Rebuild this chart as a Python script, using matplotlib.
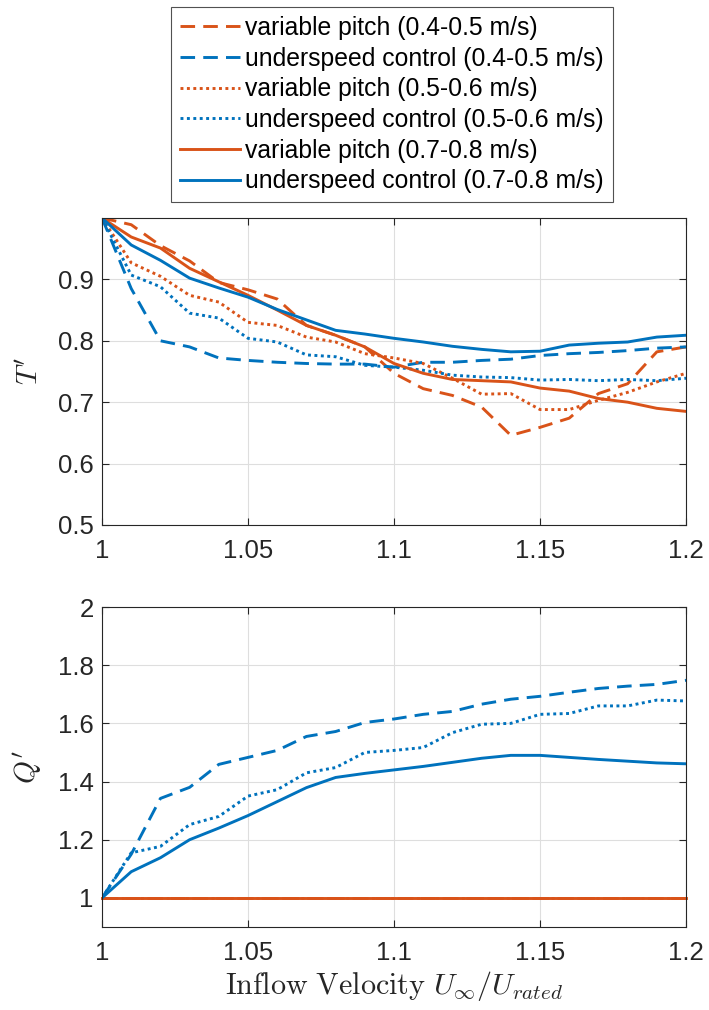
import matplotlib
matplotlib.use("Agg")
import matplotlib.pyplot as plt
import numpy as np

plt.rcParams['font.family'] = ['Liberation Sans', 'DejaVu Sans']
plt.rcParams['mathtext.fontset'] = 'cm'

x = [1.00, 1.01, 1.02, 1.03, 1.04, 1.05, 1.06, 1.07, 1.08, 1.09, 1.10,
     1.11, 1.12, 1.13, 1.14, 1.15, 1.16, 1.17, 1.18, 1.19, 1.20]

# Normalised thrust T'
T_vp_45 = [1.0, 0.989, 0.955, 0.930, 0.895, 0.883, 0.868, 0.825, 0.809, 0.790, 0.747,
           0.722, 0.711, 0.692, 0.646, 0.659, 0.674, 0.714, 0.730, 0.782, 0.790]
T_us_45 = [1.0, 0.885, 0.800, 0.790, 0.772, 0.768, 0.765, 0.763, 0.762, 0.762, 0.757,
           0.765, 0.765, 0.768, 0.770, 0.776, 0.779, 0.781, 0.784, 0.788, 0.790]
T_vp_56 = [1.0, 0.927, 0.905, 0.874, 0.863, 0.830, 0.825, 0.806, 0.798, 0.779, 0.772,
           0.763, 0.739, 0.713, 0.714, 0.688, 0.688, 0.703, 0.716, 0.733, 0.747]
T_us_56 = [1.0, 0.907, 0.888, 0.845, 0.837, 0.804, 0.798, 0.777, 0.774, 0.760, 0.757,
           0.752, 0.744, 0.741, 0.740, 0.736, 0.737, 0.735, 0.737, 0.735, 0.739]
T_vp_78 = [1.0, 0.969, 0.951, 0.918, 0.896, 0.874, 0.850, 0.825, 0.809, 0.790, 0.763,
           0.747, 0.737, 0.735, 0.733, 0.723, 0.718, 0.706, 0.700, 0.690, 0.685]
T_us_78 = [1.0, 0.956, 0.931, 0.902, 0.886, 0.871, 0.851, 0.834, 0.817, 0.811, 0.804,
           0.798, 0.791, 0.786, 0.782, 0.783, 0.793, 0.796, 0.798, 0.806, 0.809]

# Normalised torque Q'
Q_vp_45 = [1.0] * 21
Q_vp_56 = [1.0] * 21
Q_vp_78 = [1.0] * 21
Q_us_45 = [1.0, 1.150, 1.342, 1.380, 1.459, 1.483, 1.507, 1.555, 1.572, 1.603, 1.615,
           1.631, 1.641, 1.666, 1.683, 1.693, 1.707, 1.720, 1.728, 1.734, 1.748]
Q_us_56 = [1.0, 1.155, 1.177, 1.252, 1.280, 1.350, 1.372, 1.430, 1.448, 1.500, 1.507,
           1.517, 1.568, 1.597, 1.600, 1.631, 1.634, 1.660, 1.660, 1.680, 1.677]
Q_us_78 = [1.0, 1.090, 1.138, 1.200, 1.240, 1.283, 1.331, 1.379, 1.414, 1.428, 1.440,
           1.452, 1.466, 1.480, 1.490, 1.490, 1.483, 1.476, 1.470, 1.464, 1.461]

labels = ["variable pitch (0.4-0.5 m/s)", "underspeed control (0.4-0.5 m/s)",
          "variable pitch (0.5-0.6 m/s)", "underspeed control (0.5-0.6 m/s)",
          "variable pitch (0.7-0.8 m/s)", "underspeed control (0.7-0.8 m/s)"]

ORANGE = '#D95319'
BLUE = '#0072BD'
AXC = '#262626'
DASH = (0, (5, 2.8))
DOT = (0, (1, 1.2))

fig = plt.figure(figsize=(7.09, 10.10), dpi=100)
ax1 = fig.add_axes([0.1439, 0.4802, 0.8237, 0.3040])
ax2 = fig.add_axes([0.1439, 0.0822, 0.8237, 0.3168])

lw = 2.1
styles = [(ORANGE, DASH), (BLUE, DASH), (ORANGE, DOT), (BLUE, DOT), (ORANGE, '-'), (BLUE, '-')]
Tdata = [T_vp_45, T_us_45, T_vp_56, T_us_56, T_vp_78, T_us_78]
Qdata = [Q_vp_45, Q_us_45, Q_vp_56, Q_us_56, Q_vp_78, Q_us_78]

handles = []
for (c, ls), d, lab in zip(styles, Tdata, labels):
    h, = ax1.plot(x, d, color=c, linestyle=ls, linewidth=lw, label=lab)
    handles.append(h)
for (c, ls), d in zip(styles, Qdata):
    ax2.plot(x, d, color=c, linestyle=ls, linewidth=lw, clip_on=(c != ORANGE))

ax1.set_xlim(1, 1.2)
ax1.set_ylim(0.5, 1.0)
ax1.set_yticks([0.5, 0.6, 0.7, 0.8, 0.9])
ax1.set_yticklabels(['0.5', '0.6', '0.7', '0.8', '0.9'])
ax2.set_xlim(1, 1.2)
ax2.set_ylim(0.9, 2.0)
ax2.set_yticks([1, 1.2, 1.4, 1.6, 1.8, 2])
ax2.set_yticklabels(['1', '1.2', '1.4', '1.6', '1.8', '2'])

for ax in (ax1, ax2):
    ax.set_xticks([1, 1.05, 1.1, 1.15, 1.2])
    ax.set_xticklabels(['1', '1.05', '1.1', '1.15', '1.2'])
    ax.grid(True, color='#dedede', linewidth=0.8)
    ax.set_axisbelow(True)
    ax.tick_params(direction='in', length=5, width=0.8, colors=AXC, labelsize=18.5,
                   top=True, right=True)
    ax.tick_params(axis='x', pad=10)
    ax.tick_params(axis='y', pad=6)
    for s in ax.spines.values():
        s.set_color(AXC)
        s.set_linewidth(0.8)

ax1.set_ylabel(r"$T'$", fontsize=21, color=AXC, labelpad=10)
ax2.set_ylabel(r"$Q'$", fontsize=21, color=AXC, labelpad=10)
ax2.set_xlabel(r"$\mathrm{Inflow\ Velocity}\ U_\infty/U_{rated}$", fontsize=21.7,
               color=AXC, labelpad=3)

leg = fig.legend(handles=handles, loc='upper center', bbox_to_anchor=(0.553, 0.993),
                 fontsize=17.8, frameon=True, fancybox=False, handlelength=2.4,
                 handletextpad=0.23, labelspacing=0.27, borderpad=0.36, borderaxespad=0)
leg.get_frame().set_edgecolor('#262626')
leg.get_frame().set_linewidth(0.8)
for t in leg.get_texts():
    t.set_color('black')

fig.savefig('out.png', dpi=100)
